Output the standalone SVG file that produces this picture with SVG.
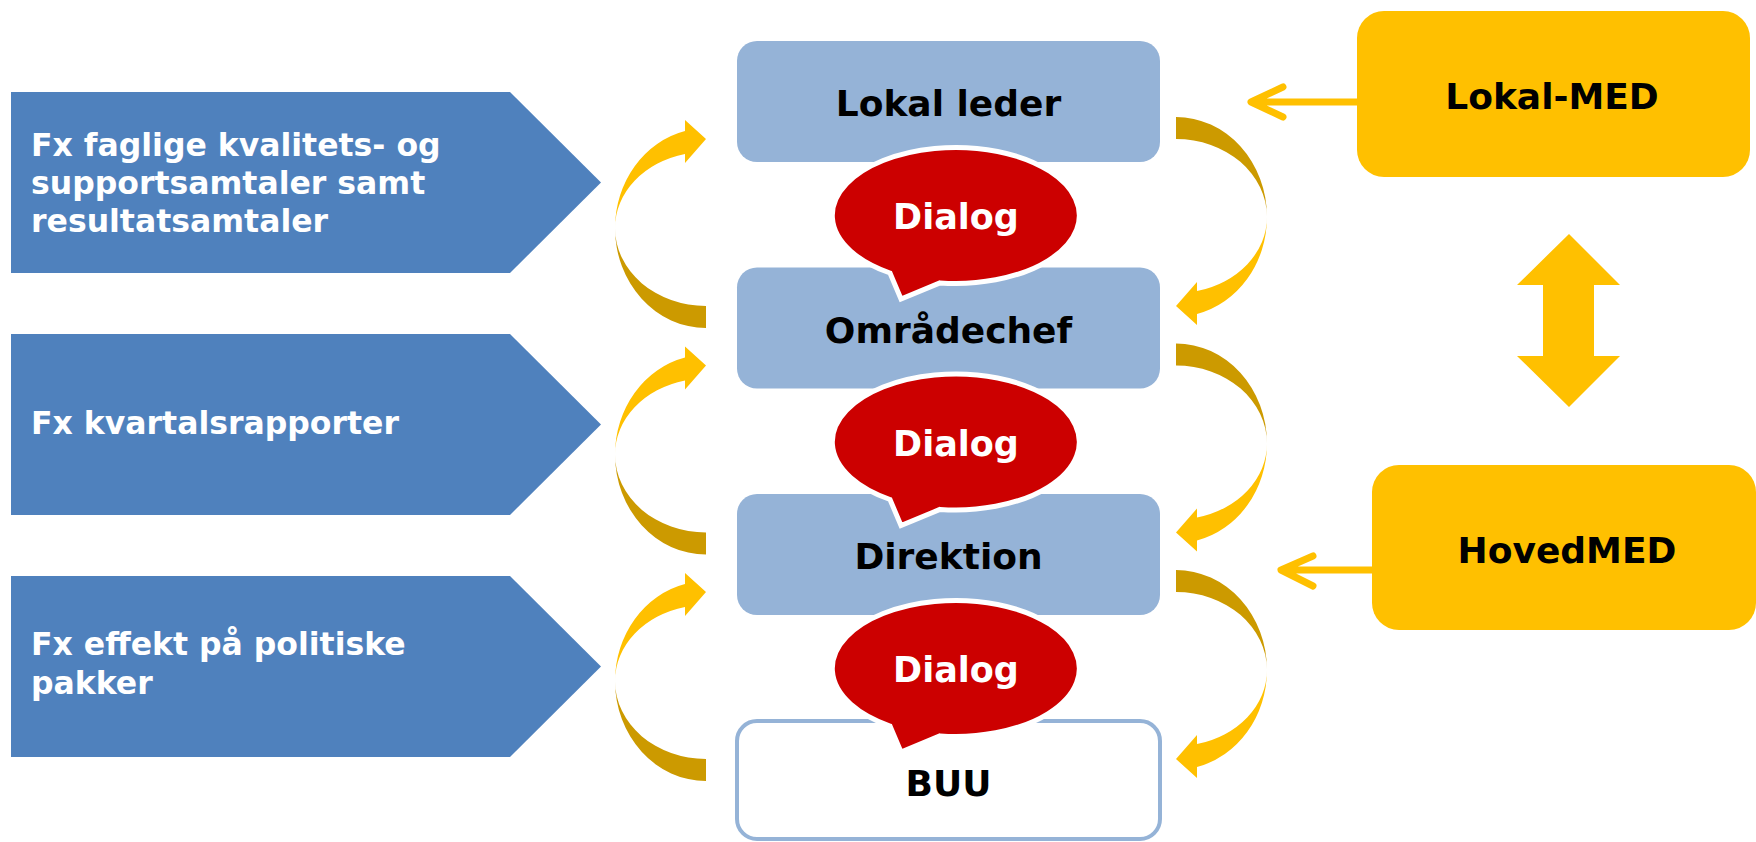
<svg xmlns="http://www.w3.org/2000/svg" width="1756" height="842" viewBox="0 0 1756 842">
<style>
.t{font-family:"DejaVu Sans",Verdana,sans-serif;font-weight:bold}
.lbl{font-size:36px;fill:#000;text-anchor:middle}
.side{font-size:31.5px;fill:#fff}
.dlg{font-size:35px;fill:#fff;text-anchor:middle}
.pent{fill:#4F81BD}
.box{fill:#95B3D7}
.med{fill:#FFC000}
.bub{fill:#CC0000;stroke:#fff;stroke-width:5;stroke-linejoin:miter}
.dark{fill:#CC9A00}
.light{fill:#FFC000}
.ln{stroke:#FFC000;stroke-width:7;fill:none;stroke-linecap:round;stroke-linejoin:round}
</style>
<defs>
<g id="rarrow">
<path class="dark" d="M1176,117 A91,100 0 0 1 1267,217 A91,78 0 0 0 1176,139 Z"/>
<path class="light" d="M1267,217 A91,100 0 0 1 1197,314 L1197,325 L1176,306 L1197,282 L1197,291 A91,76 0 0 0 1267,217 Z"/>
</g>
<g id="larrow"><use href="#rarrow" transform="rotate(180 941 222.5)"/></g>
<path id="bubble" class="bub" d="M890,273 A123.5,68 0 1 1 940,282.9 L901,299 Z"/>
</defs>

<g id="connectors">
<use href="#rarrow"/>
<use href="#larrow"/>
<use href="#rarrow" transform="translate(0,226.5)"/>
<use href="#larrow" transform="translate(0,226.5)"/>
<use href="#rarrow" transform="translate(0,453)"/>
<use href="#larrow" transform="translate(0,453)"/>
<path class="ln" d="M1357,102 H1253 M1283,87 L1251,102 L1283,117"/>
<path class="ln" d="M1372,570 H1283 M1313,556 L1281,570 L1313,586"/>
<polygon class="med" points="1569,234 1620,285 1594,285 1594,356 1620,356 1569,407 1517,356 1543,356 1543,285 1517,285"/>
</g>

<g id="pent1"><polygon class="pent" points="11,92 510,92 601,182.5 510,273 11,273"/>
<text class="t side"><tspan x="31" y="156">Fx faglige kvalitets- og</tspan><tspan x="31" y="194">supportsamtaler samt</tspan><tspan x="31" y="232">resultatsamtaler</tspan></text></g>
<g id="pent2"><polygon class="pent" points="11,334 510,334 601,424.5 510,515 11,515"/>
<text class="t side" x="31" y="434">Fx kvartalsrapporter</text></g>
<g id="pent3"><polygon class="pent" points="11,576 510,576 601,666.5 510,757 11,757"/>
<text class="t side"><tspan x="31" y="655">Fx effekt på politiske</tspan><tspan x="31" y="694">pakker</tspan></text></g>

<g id="lokal-leder"><rect class="box" x="737" y="41" width="423" height="121" rx="20"/>
<text class="t lbl" x="948.5" y="116">Lokal leder</text></g>
<g id="omraadechef"><rect class="box" x="737" y="267.5" width="423" height="121" rx="20"/>
<text class="t lbl" x="948.5" y="342.5">Områdechef</text></g>
<g id="direktion"><rect class="box" x="737" y="494" width="423" height="121" rx="20"/>
<text class="t lbl" x="948.5" y="569">Direktion</text></g>
<g id="buu"><rect x="737" y="721" width="423" height="118" rx="20" fill="#fff" stroke="#95B3D7" stroke-width="4"/>
<text class="t lbl" x="948.5" y="795.5">BUU</text></g>

<g id="dialog1"><use href="#bubble"/><text class="t dlg" x="956" y="229">Dialog</text></g>
<g id="dialog2" transform="translate(0,226.5)"><use href="#bubble"/><text class="t dlg" x="956" y="229">Dialog</text></g>
<g id="dialog3" transform="translate(0,453)"><use href="#bubble"/><text class="t dlg" x="956" y="229">Dialog</text></g>

<g id="lokal-med"><rect class="med" x="1357" y="11" width="393" height="166" rx="27"/>
<text class="t lbl" x="1552" y="109">Lokal-MED</text></g>
<g id="hovedmed"><rect class="med" x="1372" y="465" width="384" height="165" rx="27"/>
<text class="t lbl" x="1567" y="563">HovedMED</text></g>
</svg>
